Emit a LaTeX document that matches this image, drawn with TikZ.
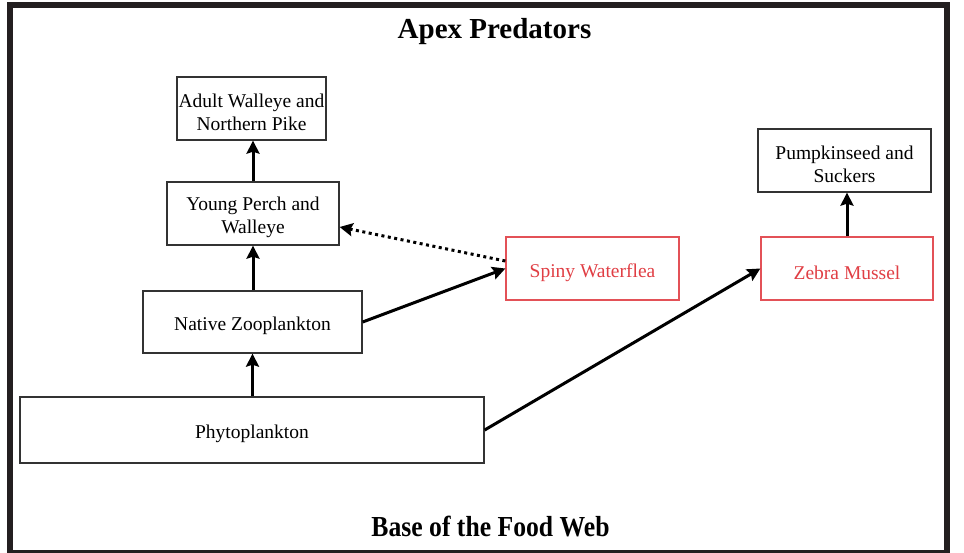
\documentclass[tikz,border=0pt]{standalone}
\usepackage{fontspec}
\setmainfont{Liberation Serif}
\usetikzlibrary{positioning,arrows.meta,calc}
\definecolor{invasive}{RGB}{224,62,68}
\definecolor{framegray}{RGB}{35,31,32}
\newcommand{\toprule}{\rule{0pt}{22pt}}

\begin{document}
\begin{tikzpicture}[
  x=1pt, y=-1pt, >={Stealth[length=13pt,width=13pt,inset=2pt]},
  font=\fontsize{19.5}{23}\selectfont,
  blk/.style={draw=black!80,line width=1.3pt,rectangle,inner sep=0pt,
    minimum width=172pt,minimum height=63pt,align=center,
    execute at begin node={\toprule}},
  inv/.style={blk,draw=invasive!90,text=invasive},
  feed/.style={->,line width=3pt},
  title/.style={font=\fontsize{29}{34}\selectfont\bfseries,anchor=base}
]
\useasboundingbox (0,0) rectangle (964,552);
% outer frame
\draw[line width=6pt,framegray] (10,4.5) rectangle (947,553);

% Titles
\node[title] (apex) at (494.5,38) {Apex Predators};
\node[title] (base) at (490.5,536) {\scalebox{0.885}[1]{Base of the Food Web}};

% Native food chain
\node[blk, minimum width=149pt] (walleye) at (251.5,108.5) {\toprule Adult Walleye and\\Northern Pike};
\node[blk] (perch) at (253,213.5) {\toprule Young Perch and\\Walleye};
\node[blk, minimum width=219pt, minimum height=62pt] (zoo) at (252.5,322) {Native Zooplankton};
\node[blk, minimum width=464pt, minimum height=66pt] (phyto) at (252,430) {Phytoplankton};

% Invasive species
\node[inv, minimum width=173pt] (flea) at (592.5,268.5) {Spiny Waterflea};
\node[inv] (mussel) at (847,268.5) {Zebra Mussel};
\node[blk, minimum width=173pt] (pump) at (844.5,160.5) {\toprule Pumpkinseed and\\Suckers};

% Connections
\draw[feed] (phyto.north -| zoo.south) -- (zoo.south);
\draw[feed] (perch.south |- zoo.north) -- (perch.south);
\draw[feed] (perch.north) -- (perch.north |- walleye.south);
\draw[feed] (zoo.east) -- (flea.west);
\draw[feed,dash pattern=on 3pt off 3.5pt] ([yshift=7.5pt]flea.west) -- ([yshift=-13.5pt]perch.east);
\draw[feed] (phyto.east) -- (mussel.west);
\draw[feed] (mussel.north) -- (mussel.north |- pump.south);
\end{tikzpicture}
\end{document}
